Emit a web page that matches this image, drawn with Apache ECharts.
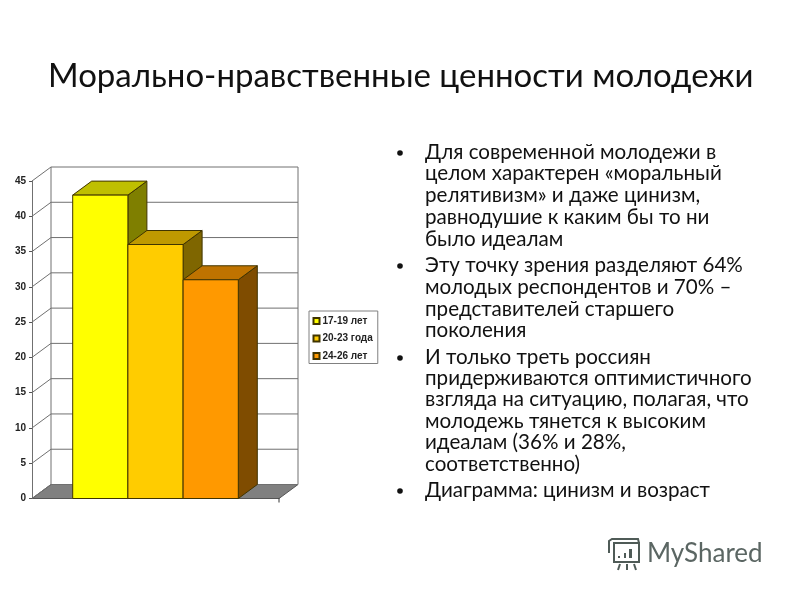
<!DOCTYPE html>
<html><head><meta charset="utf-8">
<style>html,body{margin:0;padding:0;background:#fff}#c{width:800px;height:600px}</style>
<script src="https://cdn.jsdelivr.net/npm/echarts@6/dist/echarts.min.js"></script>
</head><body><div id="c"></div>
<script>
const titleText = 'Морально-нравственные ценности молодежи';
const categories = [''];
const groupNames = ['17-19 лет', '20-23 года', '24-26 лет'];
const groupValues = [43, 36, 31];
const yTicks = [0, 5, 10, 15, 20, 25, 30, 35, 40, 45];
const paragraphs = [
  ['Для современной молодежи в', 'целом характерен «моральный', 'релятивизм» и даже цинизм,', 'равнодушие к каким бы то ни', 'было идеалам'],
  ['Эту точку зрения разделяют 64%', 'молодых респондентов и 70% –', 'представителей старшего', 'поколения'],
  ['И только треть россиян', 'придерживаются оптимистичного', 'взгляда на ситуацию, полагая, что', 'молодежь тянется к высоким', 'идеалам (36% и 28%,', 'соответственно)'],
  ['Диаграмма: цинизм и возраст']
];
const frontColors = ['#FFFF00', '#FFCC00', '#FF9900'];
const topColors = ['#BFBF00', '#BF9900', '#BF7300'];
const sideColors = ['#7F7F00', '#7F6600', '#7F4C00'];

const depthX = 19, depthY = 14, barW = 55.2;
const wallLine = '#707070', barLine = '#403400';

function wallItem(params, api) {
  const v = api.value(1), p = api.coord([0, v]), w = api.size([1, 0])[0];
  const x0 = p[0] - w / 2, x1 = p[0] + w / 2, y = p[1];
  const s = { stroke: wallLine, lineWidth: 1, fill: null };
  const kids = [
    { type: 'line', shape: { x1: x0, y1: y, x2: x0 + depthX, y2: y - depthY }, style: s },
    { type: 'line', shape: { x1: x0 + depthX, y1: y - depthY, x2: x1 + depthX, y2: y - depthY }, style: s }
  ];
  if (v === 0) {
    const top = api.coord([0, yTicks[yTicks.length - 1]])[1];
    kids.unshift({ type: 'polygon', shape: { points: [[x0, y], [x0 + depthX, y - depthY], [x1 + depthX, y - depthY], [x1, y]] }, style: { fill: '#808080', stroke: '#555', lineWidth: 1 } });
    kids.push({ type: 'line', shape: { x1: x0 + depthX, y1: y - depthY, x2: x0 + depthX, y2: top - depthY }, style: s });
    kids.push({ type: 'line', shape: { x1: x1 + depthX, y1: y - depthY, x2: x1 + depthX, y2: top - depthY }, style: s });
    kids.push({ type: 'line', shape: { x1: x1, y1: y, x2: x1, y2: y + 4 }, style: { stroke: '#333', lineWidth: 1 } });
  }
  return { type: 'group', children: kids };
}

function barItem(i) {
  return function (params, api) {
    const p = api.coord([0, api.value(1)]), base = api.coord([0, 0]);
    const l = p[0] + (i - 1.5) * barW, r = l + barW, t = p[1], b = base[1];
    const st = f => ({ fill: f, stroke: barLine, lineWidth: 1 });
    return { type: 'group', children: [
      { type: 'polygon', shape: { points: [[r, t], [r + depthX, t - depthY], [r + depthX, b - depthY], [r, b]] }, style: st(sideColors[i]) },
      { type: 'polygon', shape: { points: [[l, t], [l + depthX, t - depthY], [r + depthX, t - depthY], [r, t]] }, style: st(topColors[i]) },
      { type: 'rect', shape: { x: l, y: t, width: barW, height: b - t }, style: st(frontColors[i]) }
    ] };
  };
}

const textFont = 'Lato';
const lineTops = [[152, 173.5, 195.5, 217, 239], [265, 287, 309, 330.5], [357, 378, 399.5, 421, 442.5, 464], [490]];
const graphics = [];
paragraphs.forEach((lines, pi) => {
  graphics.push({ type: 'circle', shape: { cx: 400, cy: lineTops[pi][0] + 1, r: 2.8 }, style: { fill: '#111' } });
  lines.forEach((line, li) => {
    graphics.push({ type: 'text', x: 425, y: lineTops[pi][li], style: { text: line, font: '20.6px ' + textFont, fill: '#111', textAlign: 'left', textVerticalAlign: 'middle' } });
  });
});
const logoCol = '#4f5b57';
const ls = { stroke: logoCol, lineWidth: 2, fill: null };
graphics.push(
  { type: 'rect', shape: { x: 614, y: 543, width: 25, height: 19 }, style: ls },
  { type: 'polyline', shape: { points: [[609, 553], [609, 541], [612, 539], [638, 539], [639, 543]] }, style: ls },
  { type: 'rect', shape: { x: 618, y: 556, width: 2, height: 2 }, style: { fill: logoCol } },
  { type: 'rect', shape: { x: 624, y: 553, width: 2, height: 5 }, style: { fill: logoCol } },
  { type: 'rect', shape: { x: 629, y: 549, width: 3, height: 9 }, style: { fill: logoCol } },
  { type: 'line', shape: { x1: 620, y1: 564, x2: 618, y2: 570 }, style: ls },
  { type: 'line', shape: { x1: 627, y1: 564, x2: 627, y2: 570 }, style: ls },
  { type: 'line', shape: { x1: 634, y1: 564, x2: 636, y2: 570 }, style: ls },
  { type: 'text', x: 647, y: 554, style: { text: 'MyShared', font: '26px ' + textFont, fill: '#5b6663', textAlign: 'left', textVerticalAlign: 'middle' } }
);

const chart = echarts.init(document.getElementById('c'));
chart.setOption({
  animation: false,
  backgroundColor: '#fff',
  title: { text: titleText, left: 48, top: 60, padding: 0, textStyle: { fontFamily: textFont, fontWeight: 'normal', fontSize: 33, color: '#111' } },
  grid: { left: 32, right: 521, top: 181, bottom: 101.5, containLabel: false },
  xAxis: { type: 'category', data: categories, axisLine: { lineStyle: { color: '#333', width: 1 } }, axisTick: { show: false }, axisLabel: { show: false }, splitLine: { show: false } },
  yAxis: { type: 'value', min: 0, max: 45, interval: 5, axisLine: { show: true, lineStyle: { color: wallLine, width: 1 } }, axisTick: { show: true, length: 3, lineStyle: { color: '#555' } }, axisLabel: { margin: 6, fontFamily: 'Liberation Sans', fontSize: 10, fontWeight: 'bold', color: '#222' }, splitLine: { show: false } },
  legend: {
    orient: 'vertical', left: 309, top: 311, padding: [5, 5, 2.5, 3.5], itemGap: 7.5, itemWidth: 6, itemHeight: 6,
    backgroundColor: '#fff', borderColor: '#808080', borderWidth: 1, borderRadius: 0,
    icon: 'rect', selectedMode: false,
    data: groupNames,
    textStyle: { fontFamily: 'Liberation Sans', fontSize: 10, fontWeight: 'bold', color: '#222', padding: [0, 0, 0, -2] }
  },
  series: [
    { type: 'custom', name: 'walls', z: 1, silent: true, renderItem: wallItem, encode: { x: 0, y: 1 }, data: yTicks.map(t => [0, t]), clip: false },
  ].concat(groupNames.map((n, i) => ({
    type: 'custom', name: n, z: 2 + i, renderItem: barItem(i), encode: { x: 0, y: 1 },
    itemStyle: { color: frontColors[i], borderColor: barLine, borderWidth: 1 },
    data: [[0, groupValues[i]]], clip: false
  }))),
  graphic: graphics
});
</script></body></html>
